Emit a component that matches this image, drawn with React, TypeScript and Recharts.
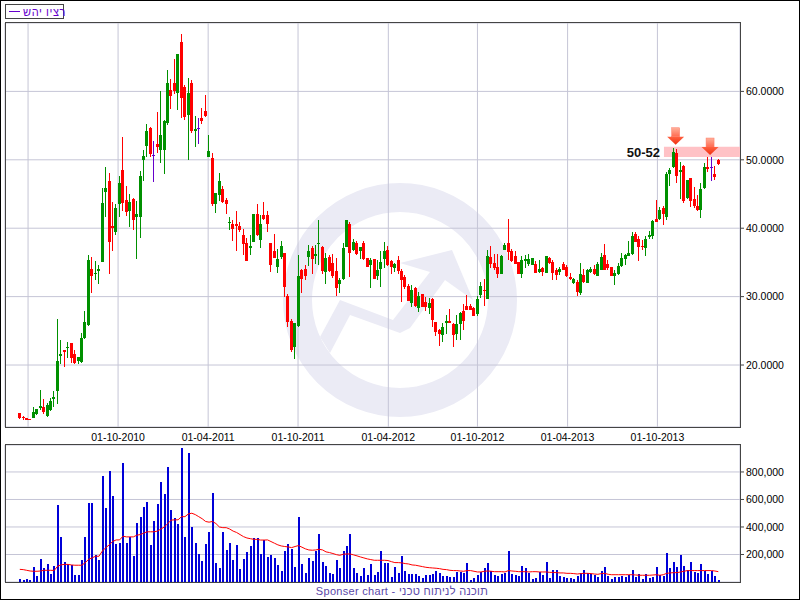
import React from 'react';

import { ComposedChart, Bar, Line, XAxis, YAxis, CartesianGrid, ReferenceArea, ReferenceDot } from 'recharts';

const opens = [
  13.0, 12.35, 12.2, 12.15, 12.25, 12.8, 13.7, 13.9, 12.55, 13.4, 15.05, 16.2, 21.35, 22.2, 22.45, 23.15, 21.6, 20.55, 20.5, 23.9,
  25.8, 34.0, 33.35, 33.7, 35.1, 45.35, 46.95, 40.3, 39.45, 43.6, 48.45, 44.15, 42.55, 44.3, 41.65, 41.7, 49.9, 52.0, 54.6, 50.65,
  52.25, 51.4, 51.4, 55.45, 60.2, 61.2, 59.7, 67.25, 60.65, 56.5, 61.2, 54.15, 54.7, 56.1, 57.1, 50.35, 50.2, 43.6, 44.9, 45.8,
  44.15, 40.8, 40.65, 40.65, 40.35, 39.0, 37.85, 37.1, 38.0, 42.1, 38.3, 41.95, 41.95, 37.85, 36.65, 34.3, 35.8, 36.35, 30.05, 26.5,
  22.7, 25.65, 33.85, 34.0, 35.8, 37.1, 35.95, 37.7, 37.25, 33.6, 35.8, 34.9, 33.7, 31.8, 32.55, 37.25, 40.65, 36.8, 37.85, 36.65,
  37.85, 35.65, 34.6, 35.5, 33.0, 34.0, 35.5, 36.8, 35.2, 34.15, 35.35, 33.7, 32.85, 31.5, 29.0, 31.2, 28.3, 30.35, 29.15, 28.3,
  29.6, 26.35, 25.05, 24.45, 26.2, 26.5, 25.95, 24.6, 25.95, 27.85, 28.7, 28.6, 28.3, 27.4, 30.2, 30.9, 29.6, 35.8, 34.9, 34.3,
  33.3, 36.8, 37.85, 36.65, 35.95, 35.05, 33.3, 35.2, 34.75, 34.6, 34.8, 33.6, 34.15, 33.5, 35.7, 35.1, 33.9, 33.6, 34.8, 34.35,
  32.9, 32.0, 32.15, 30.55, 33.2, 32.0, 33.6, 34.05, 33.05, 33.9, 36.1, 34.8, 34.35, 33.05, 33.35, 34.5, 35.5, 35.95, 36.25, 39.2,
  38.45, 37.4, 37.15, 38.75, 38.9, 41.35, 41.35, 43.0, 41.65, 47.95, 48.95, 51.0, 48.2, 49.1, 44.4, 47.35, 44.3, 43.25, 42.7, 45.9,
  48.9, 48.9, 47.9, 49.9,
];

const highs = [
  13.0, 12.5, 12.2, 12.15, 13.8, 13.5, 16.4, 15.05, 14.5, 15.25, 16.2, 26.8, 23.7, 22.2, 23.3, 23.15, 22.25, 21.2, 24.75, 27.85,
  36.1, 35.8, 35.2, 34.6, 45.9, 49.0, 48.0, 43.9, 43.6, 47.7, 53.4, 46.2, 45.05, 44.45, 44.0, 48.3, 51.5, 55.2, 54.75, 52.7,
  57.0, 60.05, 55.8, 63.1, 61.8, 64.75, 65.5, 68.45, 60.95, 62.0, 61.65, 56.35, 56.1, 57.55, 59.45, 53.6, 50.95, 45.2, 48.0, 46.1,
  44.45, 41.65, 41.2, 42.55, 40.95, 39.9, 38.6, 39.0, 42.15, 43.6, 41.95, 43.9, 42.55, 37.85, 39.15, 36.95, 38.15, 36.4, 30.35, 26.8,
  26.2, 36.1, 34.0, 34.6, 37.55, 37.4, 37.55, 41.2, 37.4, 36.4, 36.1, 36.2, 35.65, 32.7, 37.85, 41.2, 40.95, 38.45, 38.15, 37.25,
  38.15, 35.65, 35.65, 35.5, 35.35, 36.65, 38.0, 37.4, 35.35, 34.85, 35.95, 34.0, 33.15, 31.8, 31.65, 31.4, 30.65, 30.35, 29.9, 29.75,
  29.75, 26.35, 25.2, 26.1, 27.25, 28.15, 26.1, 27.25, 27.7, 28.85, 30.2, 28.85, 28.45, 30.05, 32.1, 32.55, 36.8, 37.4, 36.2, 36.2,
  36.1, 37.8, 41.35, 36.95, 36.7, 35.05, 35.95, 36.1, 36.25, 35.7, 35.15, 35.4, 34.4, 35.95, 35.85, 35.3, 34.2, 34.4, 35.1, 34.65,
  33.45, 32.75, 32.45, 34.95, 34.1, 34.1, 34.4, 34.65, 35.1, 36.35, 37.7, 35.4, 34.35, 33.9, 34.9, 36.35, 36.25, 38.15, 39.5, 39.5,
  38.85, 38.25, 38.8, 39.6, 41.2, 44.15, 43.15, 43.2, 48.25, 48.8, 51.7, 51.6, 49.7, 49.25, 47.05, 47.35, 46.0, 44.85, 46.55, 49.5,
  50.4, 50.4, 49.1, 50.05,
];

const lows = [
  12.15, 12.0, 11.9, 11.9, 12.25, 12.7, 13.4, 12.9, 12.4, 13.3, 13.8, 14.35, 20.15, 19.65, 21.1, 20.25, 20.15, 20.1, 20.35, 23.8,
  25.7, 30.5, 32.4, 31.85, 35.0, 41.65, 33.35, 36.7, 39.0, 41.65, 42.55, 41.8, 40.25, 39.75, 35.5, 38.6, 46.95, 50.35, 50.35, 46.7,
  51.05, 49.6, 47.95, 55.05, 57.4, 59.6, 57.25, 56.1, 55.8, 49.9, 53.85, 51.8, 52.25, 55.2, 56.2, 50.35, 43.3, 42.25, 44.0, 43.7,
  42.1, 39.75, 38.15, 36.65, 39.45, 36.1, 35.2, 36.1, 38.0, 38.9, 37.05, 41.2, 39.45, 33.6, 35.6, 33.45, 35.5, 29.9, 25.5, 21.95,
  20.95, 25.6, 30.5, 32.4, 34.45, 33.3, 34.75, 34.6, 33.3, 31.8, 33.6, 32.7, 30.05, 30.5, 32.4, 37.2, 32.85, 36.65, 36.05, 35.5,
  35.35, 34.3, 31.2, 32.55, 32.4, 31.35, 34.15, 34.45, 33.3, 33.6, 33.3, 29.15, 31.05, 29.3, 28.45, 28.45, 27.7, 28.45, 27.85, 27.4,
  25.5, 24.3, 22.85, 23.3, 24.6, 26.1, 22.7, 23.7, 23.6, 25.05, 28.0, 28.0, 27.1, 27.1, 29.75, 28.7, 29.6, 34.15, 33.85, 32.7,
  33.3, 36.8, 35.35, 35.05, 34.75, 33.3, 32.7, 34.15, 34.45, 34.55, 33.4, 33.45, 32.95, 33.45, 34.8, 32.45, 32.45, 33.1, 33.85, 32.85,
  32.45, 31.85, 30.1, 30.25, 32.05, 32.0, 33.4, 33.2, 33.05, 33.9, 33.9, 33.9, 33.05, 31.7, 33.2, 34.4, 34.55, 35.95, 36.1, 37.95,
  35.25, 36.8, 36.0, 38.4, 38.45, 40.9, 41.2, 40.5, 41.2, 46.2, 48.8, 46.6, 44.3, 43.7, 44.25, 43.1, 43.0, 42.55, 41.5, 45.75,
  48.2, 46.9, 47.05, 49.25,
];

const closes = [
  12.3, 12.2, 11.9, 11.9, 13.1, 13.5, 14.0, 13.1, 14.2, 14.75, 15.35, 20.65, 21.65, 21.95, 22.7, 21.1, 20.25, 21.2, 24.0, 26.35,
  35.35, 33.05, 33.5, 34.0, 43.7, 45.9, 38.05, 40.1, 43.0, 46.65, 43.7, 42.4, 43.85, 41.2, 42.1, 47.7, 50.5, 54.2, 50.9, 50.65,
  51.8, 53.6, 55.65, 61.2, 59.3, 60.05, 65.45, 59.0, 56.25, 59.75, 54.15, 54.45, 54.7, 55.65, 56.35, 51.35, 43.6, 45.2, 46.95, 43.9,
  43.6, 40.95, 39.9, 40.35, 39.75, 37.7, 35.2, 37.4, 42.1, 39.0, 40.65, 41.4, 40.65, 34.6, 35.65, 35.5, 37.4, 31.35, 26.35, 22.25,
  26.2, 33.0, 32.55, 33.0, 36.65, 35.5, 36.2, 37.85, 33.7, 35.65, 33.7, 33.0, 31.2, 32.4, 37.1, 41.2, 36.35, 38.0, 36.2, 37.25,
  35.5, 34.3, 35.35, 32.55, 33.85, 35.05, 36.65, 34.6, 34.3, 34.75, 33.7, 32.4, 31.35, 29.3, 30.95, 28.7, 30.05, 28.45, 28.45, 29.0,
  26.65, 24.9, 24.6, 25.5, 26.5, 26.2, 24.45, 25.95, 27.55, 26.5, 28.0, 28.0, 27.1, 29.6, 31.5, 30.8, 35.95, 34.75, 34.15, 33.3,
  35.95, 37.55, 36.5, 35.2, 34.75, 33.3, 35.35, 35.5, 35.5, 35.6, 33.5, 34.0, 33.55, 35.95, 34.95, 33.5, 33.2, 34.05, 33.9, 33.05,
  32.6, 32.6, 30.7, 33.3, 32.15, 33.9, 34.05, 33.35, 34.8, 35.8, 33.9, 34.2, 33.05, 33.5, 34.5, 35.65, 36.1, 36.4, 38.9, 38.0,
  37.3, 37.3, 38.45, 39.0, 41.05, 40.9, 42.7, 42.1, 47.95, 48.5, 51.15, 47.65, 48.5, 44.0, 47.05, 44.0, 43.25, 42.7, 45.75, 48.95,
  48.7, 48.9, 47.5, 49.4,
];

// thousands of units per week
const volumes = [
  22, 15, 22, 15, 109, 44, 168, 102, 131, 58, 117, 561, 328, 146, 131, 124, 51, 51, 160, 328,
  576, 576, 197, 160, 773, 539, 809, 627, 277, 284, 867, 284, 328, 190, 430, 474, 547, 583, 270, 445,
  569, 729, 642, 838, 525, 467, 423, 977, 328, 940, 401, 284, 204, 153, 277, 364, 649, 139, 102, 364,
  233, 284, 160, 270, 95, 168, 219, 262, 321, 321, 204, 306, 182, 197, 175, 124, 80, 226, 277, 240,
  109, 474, 131, 66, 175, 153, 226, 350, 146, 117, 66, 58, 160, 102, 226, 262, 350, 102, 66, 44,
  102, 51, 131, 51, 73, 226, 139, 139, 36, 109, 66, 190, 80, 58, 58, 58, 44, 29, 51, 51,
  58, 80, 66, 44, 44, 36, 36, 73, 73, 66, 139, 15, 29, 51, 73, 102, 139, 80, 51, 44,
  58, 66, 226, 58, 51, 44, 117, 102, 66, 22, 29, 73, 51, 146, 29, 87, 87, 44, 36, 29,
  29, 22, 44, 66, 87, 66, 58, 51, 36, 80, 109, 44, 22, 36, 36, 44, 36, 51, 87, 36,
  58, 22, 58, 29, 36, 109, 51, 44, 211, 102, 146, 109, 197, 117, 87, 146, 73, 66, 131, 80,
  58, 80, 44, 15,
];

const volumeAverages = [
  92, 90, 85, 80, 78, 78, 80, 85, 85, 85, 84, 115, 125, 128, 128, 124, 122, 122, 122, 140,
  165, 175, 187, 187, 225, 250, 270, 295, 306, 306, 333, 328, 328, 328, 340, 345, 355, 365, 365, 365,
  370, 385, 400, 425, 450, 452, 452, 475, 475, 495, 500, 490, 475, 460, 440, 435, 440, 425, 400, 395,
  395, 385, 370, 360, 345, 330, 320, 315, 310, 310, 305, 305, 306, 294, 282, 270, 262, 258, 255, 250,
  258, 265, 253, 241, 233, 231, 233, 238, 233, 219, 214, 207, 199, 194, 202, 204, 204, 197, 190, 182,
  175, 168, 163, 158, 158, 158, 158, 156, 148, 141, 141, 139, 134, 131, 124, 122, 117, 112, 107, 104,
  102, 100, 97, 92, 90, 85, 83, 83, 80, 78, 83, 83, 78, 73, 73, 78, 80, 78, 75, 75,
  75, 73, 83, 80, 78, 75, 75, 75, 73, 75, 75, 73, 73, 73, 70, 70, 68, 66, 66, 63,
  63, 61, 58, 61, 63, 63, 61, 58, 56, 61, 63, 56, 53, 53, 53, 53, 53, 53, 53, 51,
  49, 49, 49, 49, 51, 53, 49, 53, 63, 66, 68, 68, 73, 78, 83, 83, 83, 83, 83, 83,
  83, 83, 80, 75,
];

const weekTicks = [2.4, 28.56, 54.74, 80.86, 107.1, 133, 159.2, 185.3];
const weekTickLabels = ['', '01-10-2010', '01-04-2011', '01-10-2011', '01-04-2012', '01-10-2012', '01-04-2013', '01-10-2013'];
const priceTicks = [20, 30, 40, 50, 60];
const volumeTicks = [200, 400, 600, 800];

const candles = closes.map((close, i) => ({
  week: i,
  open: opens[i],
  high: highs[i],
  low: lows[i],
  close,
  range: [lows[i], highs[i]],
}));

const volumeRows = volumes.map((volume, i) => ({ week: i, volume, average: volumeAverages[i] }));

const GRID = '#c5c5d6';
const FRAME = '#444444';
const FONT = '"Liberation Sans", Arial, sans-serif';
const WEEK_DOMAIN: [number, number] = [-4.3, 209.3];

const candleColor = (open: number, close: number) => (close > open ? '#009000' : close < open ? '#ff0000' : '#6600cc');

const CandleShape = (props: any) => {
  const { x, y, height, payload } = props;
  const { open, high, low, close } = payload;
  const perUnit = height / (high - low);
  const bodyTop = y + (high - Math.max(open, close)) * perUnit;
  const bodyHeight = Math.max(Math.abs(open - close) * perUnit, 1);
  const left = Math.round(x);
  const color = candleColor(open, close);
  return (
    <g shapeRendering="crispEdges">
      <rect x={left + 1} y={y} width={1} height={height} fill={color} />
      <rect x={left} y={bodyTop} width={3} height={bodyHeight} fill={color} />
    </g>
  );
};

const VolumeShape = (props: any) => (
  <rect x={Math.round(props.x)} y={props.y} width={2} height={props.height} fill="#0000d8" shapeRendering="crispEdges" />
);

const ArrowShape = (props: any) => {
  const { cx, cy } = props;
  return (
    <g>
      <rect x={cx - 4} y={cy - 17} width={8} height={9} fill="url(#arrowStem)" stroke="#ff7a66" strokeWidth={0.5} />
      <polygon points={`${cx - 8.5},${cy - 8} ${cx + 8.5},${cy - 8} ${cx},${cy}`} fill="url(#arrowHead)" />
    </g>
  );
};

const BandLabel = (props: any) => (
  <text x={props.cx - 4} y={props.cy + 5} textAnchor="end" fontFamily={FONT} fontSize={13} fontWeight={700} fill="#111111">
    50-52
  </text>
);

const Watermark = () => (
  <svg width={800} height={600} style={{ position: 'absolute', left: 0, top: 0 }}>
    <circle cx={400} cy={300} r={102.5} fill="none" stroke="#ebebf5" strokeWidth={29} />
    <polygon
      points="320,337 340,300 393,320 430,272 400,263 452,250 473,300 445,280 410,328 400,333 350,315 330,353"
      fill="#ebebf5"
    />
  </svg>
);

export default function App() {
  return (
    <div
      style={{
        position: 'absolute',
        left: 0,
        top: 0,
        width: 800,
        height: 600,
        boxSizing: 'border-box',
        border: '1px solid #000',
        background: '#fff',
        overflow: 'hidden',
        fontFamily: FONT,
      }}
    >
      <div style={{ position: 'absolute', left: -1, top: -1, width: 800, height: 600 }}>
        <Watermark />

        <div
          style={{
            position: 'absolute',
            left: 5,
            top: 4,
            width: 57,
            height: 13,
            border: `1px solid ${FRAME}`,
            display: 'flex',
            alignItems: 'center',
            color: '#6600cc',
            fontSize: 11,
            whiteSpace: 'nowrap',
          }}
        >
          <span style={{ width: 11, height: 1, background: '#6600cc', margin: '0 3px 0 3px', flex: 'none' }}></span>
          <span style={{ letterSpacing: 0.6 }}>רציו יהש</span>
        </div>

        <div style={{ position: 'absolute', left: 0, top: 0 }}>
          <ComposedChart width={800} height={447} data={candles} margin={{ top: 23, right: 0, bottom: 0, left: 5 }}>
            <defs>
              <linearGradient id="arrowStem" x1="0" y1="0" x2="0" y2="1">
                <stop offset="0%" stopColor="#ffb09a" />
                <stop offset="100%" stopColor="#ff6a50" />
              </linearGradient>
              <linearGradient id="arrowHead" x1="0" y1="0" x2="0" y2="1">
                <stop offset="0%" stopColor="#ff6040" />
                <stop offset="100%" stopColor="#f03010" />
              </linearGradient>
            </defs>
            <CartesianGrid stroke={GRID} strokeWidth={1} />
            <XAxis
              dataKey="week"
              type="number"
              domain={WEEK_DOMAIN}
              ticks={weekTicks}
              interval={0}
              height={20}
              axisLine={false}
              tickLine={false}
              tickMargin={1}
              tick={{ fontSize: 10.5, fill: '#000', fontFamily: FONT }}
              tickFormatter={(v) => weekTickLabels[weekTicks.indexOf(v)]}
              allowDataOverflow
            />
            <YAxis
              orientation="right"
              type="number"
              domain={[10.94, 70]}
              ticks={priceTicks}
              interval={0}
              width={60}
              axisLine={false}
              tickSize={4}
              tickMargin={2}
              tickLine={{ stroke: FRAME }}
              tick={{ fontSize: 10.5, fill: '#000', fontFamily: FONT }}
              tickFormatter={(v) => Number(v).toFixed(4)}
              allowDataOverflow
            />
            <ReferenceArea x1={187.2} x2={209.3} y1={50.4} y2={51.9} fill="#ffc2c6" fillOpacity={1} stroke="none" />
            <Bar dataKey="range" barSize={3} shape={CandleShape} isAnimationActive={false} />
            <ReferenceDot x={190.6} y={52.2} r={0} shape={ArrowShape} />
            <ReferenceDot x={200.6} y={50.7} r={0} shape={ArrowShape} />
            <ReferenceDot x={187.2} y={51.1} r={0} shape={BandLabel} />
          </ComposedChart>
        </div>

        <div style={{ position: 'absolute', left: 0, top: 440 }}>
          <ComposedChart width={800} height={143} data={volumeRows} margin={{ top: 5, right: 0, bottom: 1, left: 5 }}>
            <CartesianGrid stroke={GRID} strokeWidth={1} />
            <XAxis
              dataKey="week"
              type="number"
              domain={WEEK_DOMAIN}
              ticks={weekTicks}
              interval={0}
              height={0}
              axisLine={false}
              tickLine={false}
              tick={false}
              allowDataOverflow
            />
            <YAxis
              orientation="right"
              type="number"
              domain={[0, 996]}
              ticks={volumeTicks}
              interval={0}
              width={60}
              axisLine={false}
              tickSize={4}
              tickMargin={2}
              tickLine={{ stroke: FRAME }}
              tick={{ fontSize: 10.5, fill: '#000', fontFamily: FONT }}
              tickFormatter={(v) => `${v},000`}
            />
            <Bar dataKey="volume" barSize={2} shape={VolumeShape} isAnimationActive={false} />
            <Line dataKey="average" type="linear" stroke="#ff0000" strokeWidth={1} dot={false} isAnimationActive={false} />
          </ComposedChart>
        </div>

        <div style={{ position: 'absolute', left: 5, top: 22, width: 734, height: 404, border: `1px solid ${FRAME}`, pointerEvents: 'none' }}></div>
        <div style={{ position: 'absolute', left: 5, top: 444, width: 734, height: 137, border: `1px solid ${FRAME}`, pointerEvents: 'none' }}></div>

        <div
          style={{
            position: 'absolute',
            left: 0,
            top: 585,
            width: 804,
            textAlign: 'center',
            fontSize: 11,
            letterSpacing: 0.3,
            color: '#5a48a8',
            whiteSpace: 'nowrap',
          }}
        >
          Sponser chart - תוכנה לניתוח טכני
        </div>
      </div>
    </div>
  );
}
